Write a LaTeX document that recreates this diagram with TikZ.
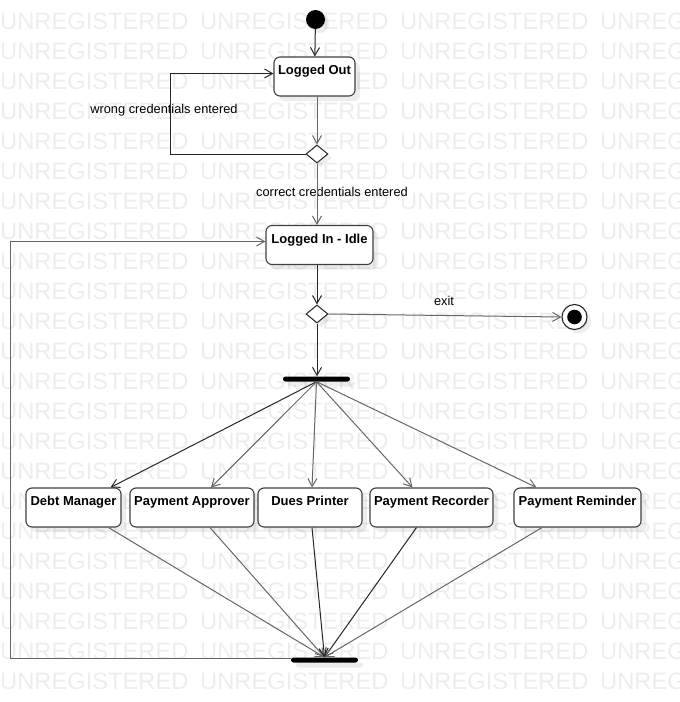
\documentclass[tikz,border=0pt]{standalone}
\usepackage{fontspec}
\setmainfont{Liberation Sans}
\usetikzlibrary{arrows.meta,shapes.geometric,shadows}
\tikzset{
	activity/.style={draw=black!75,line width=1.1pt,fill=white,rounded corners=6pt,inner sep=3pt,text height=14.5pt,text depth=18.5pt,font=\bfseries\fontsize{13}{15}\selectfont,drop shadow={fill=black,opacity=0.07,shadow xshift=5pt,shadow yshift=-5pt}},
	syncbar/.style={fill=black,inner sep=0,minimum height=5pt,rounded corners=2.5pt,drop shadow={fill=black,opacity=0.07,shadow xshift=5pt,shadow yshift=-5pt}},
	decision/.style={diamond,draw=black!85,line width=1pt,fill=white,inner sep=0,minimum width=22pt,minimum height=18pt,drop shadow={fill=black,opacity=0.07,shadow xshift=4pt,shadow yshift=-4pt}},
	initstate/.style={circle,fill=black,inner sep=0,minimum size=19pt,drop shadow={fill=black,opacity=0.07,shadow xshift=4pt,shadow yshift=-4pt}},
	finalstate/.style={circle,draw=black!85,line width=1.1pt,fill=white,inner sep=0,minimum size=25pt,path picture={\fill[black] (path picture bounding box.center) circle (7.3pt);},drop shadow={fill=black,opacity=0.07,shadow xshift=4pt,shadow yshift=-4pt}},
	flow/.style={draw=black!85,line width=1pt,-{Straight Barb[length=8pt,width=9pt]}},
	flowgray/.style={flow,draw=black!60},
	lbl/.style={font=\fontsize{12.8}{15}\selectfont,inner sep=0,anchor=base},
	wmark/.style={font=\fontsize{23.7}{28}\selectfont,text=black!7,inner sep=0,anchor=base west}
}
\begin{document}
\begin{tikzpicture}[x=1pt,y=-1pt]
	\useasboundingbox (0,0) rectangle (680,702);
	\foreach \r in {0,...,22}
		\foreach \c in {0,...,3}
			\node[wmark] (wm-\r-\c) at (200*\c,29+30*\r) {UNREGISTERED};
	\node[initstate] (init) at (315.5,19.5) {};
	\node[activity,minimum width=81pt] (loggedout) at (314.5,76.5) {Logged Out};
	\node[decision] (dec1) at (317,154) {};
	\node[activity,minimum width=107pt] (loggedin) at (319.5,245) {Logged In - Idle};
	\node[decision] (dec2) at (317,314) {};
	\node[finalstate] (final) at (574.5,317) {};
	\node[syncbar,minimum width=67pt] (fork) at (316.5,379) {};
	\node[activity,minimum width=95pt] (debt) at (73.5,507.5) {Debt Manager};
	\node[activity,minimum width=124pt] (approver) at (192,507.5) {Payment Approver};
	\node[activity,minimum width=104pt] (printer) at (310,507.5) {Dues Printer};
	\node[activity,minimum width=123pt] (recorder) at (431.5,507.5) {Payment Recorder};
	\node[activity,minimum width=127pt] (reminder) at (577.5,507.5) {Payment Reminder};
	\node[syncbar,minimum width=67pt] (join) at (324.5,660) {};
	\node[lbl] (wrong) at (164,113.5) {wrong credentials entered};
	\node[lbl] (correct) at (332,196.5) {correct credentials entered};
	\node[lbl] (exit) at (444,305) {exit};
	\coordinate (wrongcorner) at (170,154);
	\coordinate (loopcorner) at (10,658);
	\draw[flow] (init) -- (loggedout);
	\draw[flowgray] (dec1.north |- loggedout.south) -- (dec1.north);
	\draw[flow] (dec1.west) -- (wrongcorner) |- ([yshift=3pt]loggedout.west);
	\draw[flowgray] (dec1.south) -- (dec1.south |- loggedin.north);
	\draw[flow] (dec2.north |- loggedin.south) -- (dec2.north);
	\draw[flowgray] (dec2.east) -- (final.west);
	\draw[flow] (dec2.south) -- (dec2.south |- fork.north);
	\draw[flow] (fork.south) -- ([xshift=37pt]debt.north);
	\draw[flowgray] (fork.south) -- ([xshift=19pt]approver.north);
	\draw[flowgray] (fork.south) -- ([xshift=2pt]printer.north);
	\draw[flowgray] (fork.south) -- ([xshift=-19pt]recorder.north);
	\draw[flowgray] (fork.south) -- ([xshift=-41pt]reminder.north);
	\draw[flowgray] ([xshift=35pt]debt.south) -- (join.north);
	\draw[flowgray] ([xshift=18pt]approver.south) -- (join.north);
	\draw[flow] ([xshift=2pt]printer.south) -- (join.north);
	\draw[flow] ([xshift=-15pt]recorder.south) -- (join.north);
	\draw[flowgray] ([xshift=-35.5pt]reminder.south) -- (join.north);
	\draw[flowgray] ([yshift=2pt]join.west) -- (loopcorner) |- ([yshift=3.5pt]loggedin.west);
\end{tikzpicture}
\end{document}
